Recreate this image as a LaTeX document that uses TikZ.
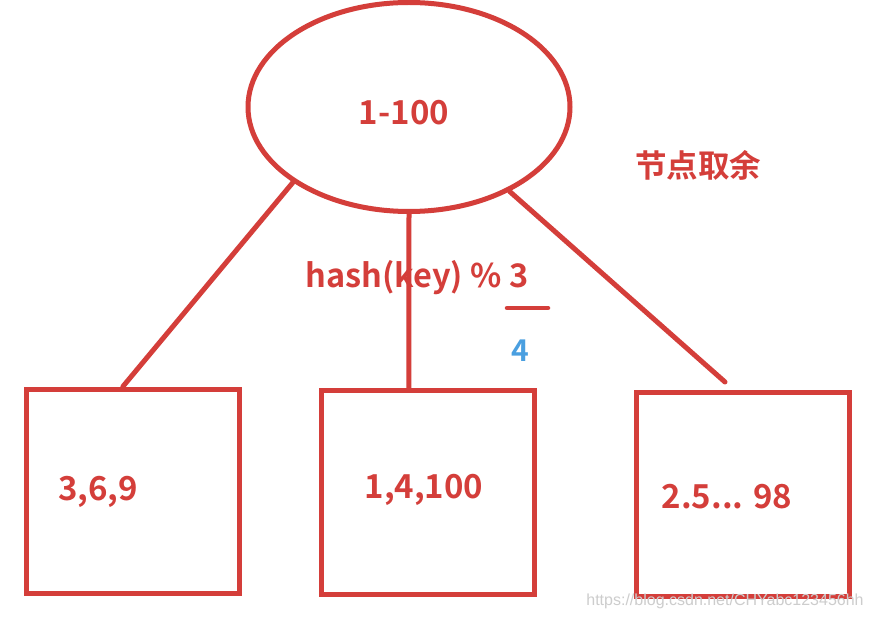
\documentclass[tikz,border=0pt]{standalone}
\usepackage{fontspec}
\newfontfamily\cjk{Noto Sans CJK SC}[BoldFont={* Bold}]
\newfontfamily\wm{Liberation Sans}
\usetikzlibrary{shapes.geometric,calc}
\definecolor{rd}{RGB}{212,62,58}
\definecolor{bl}{RGB}{74,159,224}
\definecolor{wmc}{RGB}{205,205,205}
\begin{document}
\begin{tikzpicture}[x=1pt,y=-1pt,
  ln/.style={draw=rd,line width=5pt,line cap=round},
  box/.style={draw=rd,line width=5pt,minimum width=213pt,minimum height=204pt,inner sep=0pt},
  lbl/.style={text=rd,font=\cjk\bfseries,inner sep=0pt,anchor=center}]
\useasboundingbox (0,0) rectangle (870,620);
\fill[white] (0,0) rectangle (870,620);
\node[ellipse,draw=rd,line width=5pt,minimum width=322pt,minimum height=209pt,inner sep=0pt] (ell) at (409,107) {};
\node[box] (lb) at (132.5,491) {};
\node[box] (mb) at (427.5,492.5) {};
\node[box] (rb) at (742.5,494) {};
\coordinate (rend) at (725,382);
\draw[ln] (ell.213) -- ($(lb.north west)!0.456!(lb.north east)$);
\draw[ln] (ell.south) -- ($(mb.north west)!0.414!(mb.north east)$);
\draw[ln] (ell.-40) -- (rend);
\node[lbl,font=\cjk\bfseries\fontsize{33}{33}\selectfont] (t1) at (404,113) {1-100};
\node[lbl,font=\cjk\bfseries\fontsize{31.5}{31.5}\selectfont] (t2) at (698,165) {节点取余};
\node[lbl,font=\cjk\bfseries\fontsize{32.5}{32.5}\selectfont] (hk) at (417,278) {hash(key) \% 3};
\coordinate (d1) at (507,308);
\coordinate (d2) at (548,308);
\draw[ln,line width=4.5pt] (d1) -- (d2);
\node[lbl,text=bl,font=\cjk\bfseries\fontsize{30}{30}\selectfont] (four) at (520,351) {4};
\node[lbl,font=\cjk\bfseries\fontsize{33}{33}\selectfont] (a) at (98,492) {3,6,9};
\node[lbl,font=\cjk\bfseries\fontsize{33}{33}\selectfont] (b) at (424,490) {1,4,100};
\node[lbl,font=\cjk\bfseries\fontsize{33}{33}\selectfont] (c) at (727,497) {2.5... 98};
\node[text=wmc,font=\wm\fontsize{16}{16}\selectfont,inner sep=0pt] (w) at (725,601) {https://blog.csdn.net/CHYabc123456hh};
\end{tikzpicture}
\end{document}
